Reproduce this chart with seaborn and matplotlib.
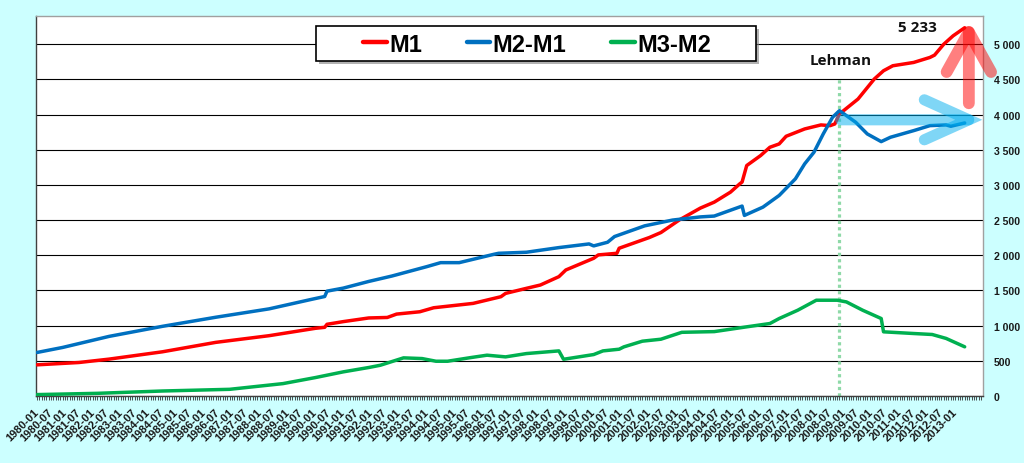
import matplotlib
matplotlib.use("Agg")
import matplotlib.pyplot as plt
import seaborn as sns
import pandas as pd
from matplotlib.patches import Rectangle, ArrowStyle
from matplotlib.lines import Line2D
from matplotlib.ticker import FuncFormatter

# ---------------- data (billions) ----------------
m1_dates = ["1980-01", "1981-07", "1982-08", "1984-07", "1986-06", "1988-05", "1990-01", "1990-05",
            "1990-06", "1991-01", "1991-12", "1992-08", "1992-12", "1993-10", "1994-04", "1995-09",
            "1996-09", "1996-11", "1997-08", "1998-02", "1998-10", "1999-01", "2000-01", "2000-03",
            "2000-11", "2000-12", "2002-01", "2002-06", "2003-02", "2003-11", "2004-05", "2004-12",
            "2005-04", "2005-05", "2005-07", "2006-01", "2006-05", "2006-09", "2006-12", "2007-08",
            "2008-03", "2008-07", "2008-09", "2008-11", "2009-07", "2010-02", "2010-06", "2010-10",
            "2011-07", "2012-02", "2012-04", "2012-08", "2012-12", "2013-05"]
m1_values = [443, 476, 524, 628, 762, 857, 962, 976,
             1019, 1057, 1109, 1116, 1164, 1197, 1254, 1316,
             1411, 1458, 1530, 1577, 1696, 1791, 1957, 2005,
             2028, 2100, 2252, 2323, 2503, 2670, 2755, 2897,
             3015, 3040, 3275, 3417, 3535, 3582, 3691, 3795,
             3852, 3842, 3866, 4008, 4220, 4504, 4622, 4693,
             4740, 4811, 4844, 5000, 5118, 5233]

m2m1_dates = ["1980-01", "1980-12", "1982-08", "1984-07", "1986-06", "1988-05", "1989-11", "1990-05",
              "1990-06", "1991-01", "1991-12", "1992-10", "1994-01", "1994-07", "1995-03", "1996-06",
              "1996-08", "1997-08", "1998-10", "1999-11", "2000-01", "2000-07", "2000-10", "2001-11",
              "2002-11", "2003-11", "2004-05", "2005-05", "2005-06", "2006-02", "2006-09", "2007-04",
              "2007-08", "2007-12", "2008-04", "2008-08", "2008-11", "2009-02", "2009-06", "2009-11",
              "2010-05", "2010-09", "2011-07", "2012-02", "2012-09", "2012-11", "2013-05"]
m2m1_values = [619, 690, 847, 990, 1119, 1238, 1371, 1414,
               1490, 1533, 1628, 1705, 1838, 1895, 1895, 2014,
               2028, 2043, 2109, 2161, 2133, 2185, 2266, 2418,
               2500, 2545, 2557, 2699, 2566, 2684, 2850, 3086,
               3299, 3464, 3724, 3960, 4055, 3984, 3890, 3724,
               3615, 3677, 3771, 3842, 3852, 3833, 3880]

m3m2_dates = ["1980-01", "1982-03", "1984-07", "1986-12", "1988-11", "1990-01", "1991-01", "1991-12",
              "1992-05", "1993-03", "1993-11", "1994-05", "1994-10", "1995-08", "1996-03", "1996-11",
              "1997-08", "1998-10", "1998-12", "2000-01", "2000-05", "2000-12", "2001-02", "2001-10",
              "2002-06", "2003-03", "2004-05", "2005-07", "2006-05", "2006-09", "2007-05", "2008-01",
              "2008-10", "2009-02", "2009-09", "2010-05", "2010-06", "2011-07", "2012-03", "2012-09",
              "2013-05"]
m3m2_values = [20, 38, 71, 95, 176, 262, 343, 405,
               437, 542, 532, 494, 494, 546, 580, 556,
               603, 641, 522, 589, 641, 665, 698, 779,
               807, 905, 915, 983, 1030, 1101, 1219, 1361,
               1361, 1337, 1219, 1101, 912, 888, 874, 818,
               699]

series_names = ["M1", "M2-M1", "M3-M2"]
series_colors = ["#FF0000", "#0070C0", "#00B050"]

y_ticks = [0, 500, 1000, 1500, 2000, 2500, 3000, 3500, 4000, 4500, 5000]
lehman_label = "Lehman"
lehman_date = "2008-11"
last_label = "5 233"

FIRST_YEAR = 1980
axis_months = [f"{FIRST_YEAR + i // 12}-{i % 12 + 1:02d}" for i in range(408)]


def month_index(s):
    y, m = s.split("-")
    return (int(y) - FIRST_YEAR) * 12 + int(m) - 1


# ---------------- figure ----------------
sns.set_theme(style="white")
plt.rcParams["font.family"] = ["Liberation Sans", "DejaVu Sans"]

W, H = 1024, 464
fig = plt.figure(figsize=(W / 100, H / 100), dpi=100, facecolor="#CCFFFF")
L, R, T, B = 36, 983, 17, 397
ax = fig.add_axes([L / W, 1 - B / H, (R - L) / W, (B - T) / H])
ax.set_facecolor("white")

frames = [
    pd.DataFrame({"month": [month_index(d) for d in m1_dates], "value": m1_values}),
    pd.DataFrame({"month": [month_index(d) for d in m2m1_dates], "value": m2m1_values}),
    pd.DataFrame({"month": [month_index(d) for d in m3m2_dates], "value": m3m2_values}),
]
for df, name, col in zip(frames, series_names, series_colors):
    sns.lineplot(data=df, x="month", y="value", color=col, lw=2.5, ax=ax,
                 legend=False, zorder=3, solid_joinstyle="round")

ax.set_xlim(-0.5, 407.9)
ax.set_ylim(0, 5400)
ax.set_xlabel("")
ax.set_ylabel("")

# y axis on the right
ax.yaxis.tick_right()
ax.set_yticks(y_ticks)
ax.yaxis.set_major_formatter(FuncFormatter(lambda v, p: f"{int(v):,}".replace(",", " ")))
ax.tick_params(axis="y", length=0, pad=8, labelsize=7.6, labelcolor="#1A1A1A")
for lab in ax.get_yticklabels():
    lab.set_fontweight("bold")
ax.grid(axis="y", color="black", lw=0.8, zorder=1)
ax.grid(axis="x", visible=False)
ax.set_axisbelow(True)

# x axis: every month ticked, labels every 6 months of the data range
last_data = max(month_index(d) for d in m1_dates)
major = [i for i in range(0, last_data + 1, 6)]
ax.set_xticks(major)
ax.set_xticklabels([axis_months[i] for i in major], rotation=45, ha="right",
                   va="center", rotation_mode="anchor", fontsize=8, fontweight="bold",
                   color="#1A1A1A")
ax.set_xticks(range(0, 408), minor=True)
ax.tick_params(axis="x", which="both", direction="out", length=3, width=0.6,
               color="#333333", bottom=True, pad=7)

for s in ["left", "bottom"]:
    ax.spines[s].set_color("#404040")
    ax.spines[s].set_linewidth(1.0)
for s in ["top", "right"]:
    ax.spines[s].set_color("#A0A0A0")
    ax.spines[s].set_linewidth(1.0)

# Lehman marker
lx = month_index(lehman_date)
ax.plot([lx, lx], [0, 4520], color="#8FD9A8", lw=2.3, ls=(0, (1, 1)), zorder=2)
ax.text(lx + 0.5, 4772, lehman_label, ha="center", va="center", fontsize=11,
        fontweight="bold", family=["Open Sans", "DejaVu Sans"], color="#111111", zorder=6)
ax.text(379.8, 5242, last_label, ha="center", va="center", fontsize=11,
        fontweight="bold", family=["Open Sans", "DejaVu Sans"], color="#111111", zorder=6)

# arrows
ax.annotate("", xy=(401.8, 5345), xytext=(401.8, 4160), annotation_clip=False,
            arrowprops=dict(arrowstyle=ArrowStyle("->", head_length=0.72, head_width=0.4),
                            mutation_scale=40, lw=8.5, color="#FF0000", alpha=0.5,
                            shrinkA=0, shrinkB=0, capstyle="round", joinstyle="round",
                            clip_on=False), zorder=5)
ax.annotate("", xy=(407.6, 3925), xytext=(346.5, 3925), annotation_clip=False,
            arrowprops=dict(arrowstyle=ArrowStyle("->", head_length=0.8, head_width=0.36),
                            mutation_scale=40, lw=8.0, color="#00AEEF", alpha=0.5,
                            shrinkA=0, shrinkB=0, capstyle="round", joinstyle="miter",
                            clip_on=False), zorder=5)

# legend box with shadow
bx0, bx1, by0, by1 = 316, 756, 27, 62
shadow = Rectangle(((bx0 + 3) / W, 1 - (by1 + 3) / H), (bx1 - bx0) / W, (by1 - by0) / H,
                   transform=fig.transFigure, facecolor="#7F7F7F", edgecolor="none",
                   alpha=0.6, zorder=7, clip_on=False)
box = Rectangle((bx0 / W, 1 - by1 / H), (bx1 - bx0) / W, (by1 - by0) / H,
                transform=fig.transFigure, facecolor="white", edgecolor="black",
                lw=1.2, zorder=8, clip_on=False)
ax.add_artist(shadow)
ax.add_artist(box)
handles = [Line2D([0], [0], color=c, lw=3.2) for c in series_colors]
leg = ax.legend(handles, series_names, ncol=3, loc="center",
                bbox_to_anchor=(537 / W, 1 - 45 / H), bbox_transform=fig.transFigure,
                frameon=False, prop={"weight": "bold", "size": 17},
                handlelength=1.0, handletextpad=0.1, columnspacing=1.9, borderpad=0.1)
leg.set_zorder(9)
for t in leg.get_texts():
    t.set_color("black")

fig.savefig("out.png", dpi=100, facecolor=fig.get_facecolor())
